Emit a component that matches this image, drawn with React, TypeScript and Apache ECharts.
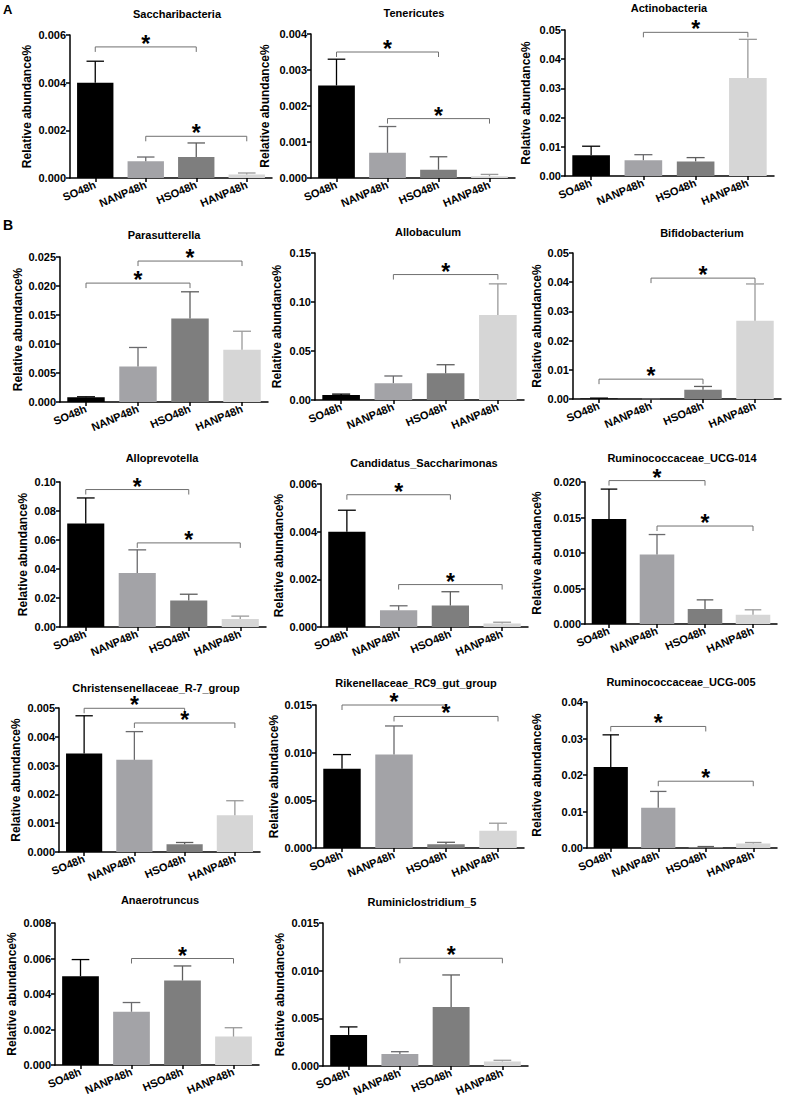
import React, { useEffect, useRef } from "react";
import * as echarts from "echarts";

const FONT = "Arial, 'Liberation Sans', Helvetica, sans-serif";

const categories = ["SO48h", "NANP48h", "HSO48h", "HANP48h"];
const groupColors = ["#000000", "#a3a3a7", "#7e7e7e", "#d6d6d6"];
const errorColors = ["#000000", "#6a6a6d", "#5e5e5e", "#9a9a9a"];
const yAxisName = "Relative abundance%";

// ---- Panel A ----
const saccharibacteriaMean = [0.004, 0.0007, 0.00088, 0.00015];
const saccharibacteriaTop = [0.0049, 0.00088, 0.00147, 0.00021];
const saccharibacteriaSig = [[0, 2, 0.0055], [1, 3, 0.00175]];

const tenericutesMean = [0.00257, 0.0007, 0.00023, 0.00005];
const tenericutesTop = [0.0033, 0.00143, 0.00059, 0.0001];
const tenericutesSig = [[0, 2, 0.0035], [1, 3, 0.00165]];

const actinobacteriaMean = [0.0071, 0.0054, 0.005, 0.0336];
const actinobacteriaTop = [0.0102, 0.0073, 0.0063, 0.0468];
const actinobacteriaSig = [[1, 3, 0.0492]];

// ---- Panel B ----
const parasutterellaMean = [0.0008, 0.0061, 0.0144, 0.009];
const parasutterellaTop = [0.0009, 0.0094, 0.019, 0.0122];
const parasutterellaSig = [[0, 2, 0.0205], [1, 3, 0.0243]];

const allobaculumMean = [0.0052, 0.0172, 0.0272, 0.0868];
const allobaculumTop = [0.006, 0.0245, 0.036, 0.1185];
const allobaculumSig = [[1, 3, 0.128]];

const bifidobacteriumMean = [0.0002, 0.00003, 0.0032, 0.0268];
const bifidobacteriumTop = [0.0003, 0.00005, 0.0043, 0.0394];
const bifidobacteriumSig = [[0, 2, 0.0068], [1, 3, 0.0414]];

const alloprevotellaMean = [0.0713, 0.0372, 0.0183, 0.0055];
const alloprevotellaTop = [0.089, 0.0532, 0.0226, 0.0075];
const alloprevotellaSig = [[0, 2, 0.0948], [1, 3, 0.058]];

const saccharimonasMean = [0.004, 0.0007, 0.0009, 0.00015];
const saccharimonasTop = [0.0049, 0.00089, 0.00148, 0.0002];
const saccharimonasSig = [[0, 2, 0.00555], [1, 3, 0.00178]];

const ucg014Mean = [0.0148, 0.0098, 0.0021, 0.0013];
const ucg014Top = [0.019, 0.0126, 0.0034, 0.002];
const ucg014Sig = [[0, 2, 0.0202], [1, 3, 0.0138]];

const christensenMean = [0.00342, 0.0032, 0.00027, 0.00128];
const christensenTop = [0.00473, 0.00418, 0.00033, 0.00178];
const christensenSig = [[0, 2, 0.00499], [1, 3, 0.00448]];

const rikenellaceaeMean = [0.0083, 0.0098, 0.0004, 0.0018];
const rikenellaceaeTop = [0.0098, 0.0128, 0.0006, 0.0026];
const rikenellaceaeSig = [[0, 2, 0.015], [1, 3, 0.0138]];

const ucg005Mean = [0.0222, 0.011, 0.0003, 0.0012];
const ucg005Top = [0.031, 0.0155, 0.0004, 0.0015];
const ucg005Sig = [[0, 2, 0.0333], [1, 3, 0.0183]];

const anaerotruncusMean = [0.005, 0.003, 0.00476, 0.0016];
const anaerotruncusTop = [0.00594, 0.00352, 0.00558, 0.0021];
const anaerotruncusSig = [[1, 3, 0.006]];

const ruminiclostridiumMean = [0.00326, 0.00125, 0.0062, 0.00048];
const ruminiclostridiumTop = [0.0041, 0.0015, 0.00955, 0.0006];
const ruminiclostridiumSig = [[1, 3, 0.0113]];

const panels = [
  { title: "Saccharibacteria", mean: saccharibacteriaMean, errTop: saccharibacteriaTop, sig: saccharibacteriaSig, max: 0.006, step: 0.002, dec: 3, left: 70, top: 35, width: 202, height: 143, tx: 177, ty: 14, gap: 37 },
  { title: "Tenericutes", mean: tenericutesMean, errTop: tenericutesTop, sig: tenericutesSig, max: 0.004, step: 0.001, dec: 3, left: 311, top: 34, width: 204, height: 144, tx: 414, ty: 13, gap: 40 },
  { title: "Actinobacteria", mean: actinobacteriaMean, errTop: actinobacteriaTop, sig: actinobacteriaSig, max: 0.05, step: 0.01, dec: 2, left: 565, top: 30, width: 209, height: 146, tx: 669, ty: 8, gap: 33 },

  { title: "Parasutterella", mean: parasutterellaMean, errTop: parasutterellaTop, sig: parasutterellaSig, max: 0.025, step: 0.005, dec: 3, left: 60, top: 257, width: 208, height: 145, tx: 164, ty: 235, gap: 36 },
  { title: "Allobaculum", mean: allobaculumMean, errTop: allobaculumTop, sig: allobaculumSig, max: 0.15, step: 0.05, dec: 2, left: 315, top: 253, width: 209, height: 147, tx: 428, ty: 232, gap: 32 },
  { title: "Bifidobacterium", mean: bifidobacteriumMean, errTop: bifidobacteriumTop, sig: bifidobacteriumSig, max: 0.05, step: 0.01, dec: 2, left: 573, top: 253, width: 208, height: 146, tx: 702, ty: 233, gap: 30 },

  { title: "Alloprevotella", mean: alloprevotellaMean, errTop: alloprevotellaTop, sig: alloprevotellaSig, max: 0.1, step: 0.02, dec: 2, left: 60, top: 482, width: 206, height: 145, tx: 162, ty: 458, gap: 31 },
  { title: "Candidatus_Saccharimonas", mean: saccharimonasMean, errTop: saccharimonasTop, sig: saccharimonasSig, max: 0.006, step: 0.002, dec: 3, left: 321, top: 484, width: 207, height: 143, tx: 424, ty: 463, gap: 36 },
  { title: "Ruminococcaceae_UCG-014", mean: ucg014Mean, errTop: ucg014Top, sig: ucg014Sig, max: 0.02, step: 0.005, dec: 3, left: 585, top: 482, width: 192, height: 142, tx: 682, ty: 458, gap: 42 },

  { title: "Christensenellaceae_R-7_group", mean: christensenMean, errTop: christensenTop, sig: christensenSig, max: 0.005, step: 0.001, dec: 3, left: 59, top: 708, width: 201, height: 144, tx: 156, ty: 688, gap: 37 },
  { title: "Rikenellaceae_RC9_gut_group", mean: rikenellaceaeMean, errTop: rikenellaceaeTop, sig: rikenellaceaeSig, max: 0.015, step: 0.005, dec: 3, left: 316, top: 705, width: 208, height: 143, tx: 416, ty: 683, gap: 36 },
  { title: "Ruminococcaceae_UCG-005", mean: ucg005Mean, errTop: ucg005Top, sig: ucg005Sig, max: 0.04, step: 0.01, dec: 2, left: 587, top: 702, width: 190, height: 146, tx: 681, ty: 682, gap: 44 },

  { title: "Anaerotruncus", mean: anaerotruncusMean, errTop: anaerotruncusTop, sig: anaerotruncusSig, max: 0.008, step: 0.002, dec: 3, left: 55, top: 923, width: 204, height: 142, tx: 160, ty: 900, gap: 37 },
  { title: "Ruminiclostridium_5", mean: ruminiclostridiumMean, errTop: ruminiclostridiumTop, sig: ruminiclostridiumSig, max: 0.015, step: 0.005, dec: 3, left: 323, top: 923, width: 205, height: 143, tx: 422, ty: 902, gap: 37 },
];

const BAR_FRAC = 0.72;

function errorItem(params: any, api: any) {
  const i = api.value(0);
  const p0 = api.coord([i, api.value(1)]);
  const p1 = api.coord([i, api.value(2)]);
  const bw = api.size([1, 0])[0] * BAR_FRAC;
  const cap = bw * 0.24;
  const stroke = errorColors[i];
  return {
    type: "group",
    children: [
      { type: "line", shape: { x1: p0[0], y1: p0[1], x2: p1[0], y2: p1[1] }, style: { stroke, lineWidth: 1.3 } },
      { type: "line", shape: { x1: p1[0] - cap, y1: p1[1], x2: p1[0] + cap, y2: p1[1] }, style: { stroke, lineWidth: 1.3 } },
    ],
  };
}

function bracketItem(params: any, api: any) {
  const a = api.coord([api.value(0), api.value(2)]);
  const b = api.coord([api.value(1), api.value(2)]);
  const tick = 5;
  return {
    type: "group",
    children: [
      {
        type: "polyline",
        shape: { points: [[a[0], a[1] + tick], [a[0], a[1]], [b[0], b[1]], [b[0], b[1] + tick]] },
        style: { stroke: "#707070", lineWidth: 1, fill: "none" },
      },
      {
        type: "text",
        x: (a[0] + b[0]) / 2,
        y: a[1] - 3,
        style: { text: "*", fill: "#000", fontSize: 23, fontWeight: "bold", fontFamily: FONT, align: "center", verticalAlign: "middle" },
      },
    ],
  };
}

export default function App() {
  const ref = useRef<HTMLDivElement>(null);
  useEffect(() => {
    if (!ref.current) return;
    const chart = echarts.init(ref.current, null, { renderer: "svg" });
    const grid: any[] = [];
    const xAxis: any[] = [];
    const yAxis: any[] = [];
    const series: any[] = [];
    const graphic: any[] = [];
    const axisLine = { show: true, lineStyle: { color: "#000", width: 1.5 } };
    panels.forEach((p, k) => {
      grid.push({ left: p.left, top: p.top, width: p.width, height: p.height });
      xAxis.push({
        type: "category",
        gridIndex: k,
        data: categories,
        axisLine,
        axisTick: { show: true, alignWithLabel: true, length: 4, lineStyle: { color: "#000", width: 1.5 } },
        axisLabel: { rotate: 23, interval: 0, margin: 6, color: "#000", fontSize: 11, fontWeight: "bold", fontFamily: FONT },
        splitLine: { show: false },
      });
      yAxis.push({
        type: "value",
        gridIndex: k,
        min: 0,
        max: p.max,
        interval: p.step,
        axisLine,
        axisTick: { show: true, length: 4, lineStyle: { color: "#000", width: 1.5 } },
        axisLabel: { margin: 4, color: "#000", fontSize: 11, fontWeight: "bold", fontFamily: FONT, formatter: (v: number) => v.toFixed(p.dec) },
        splitLine: { show: false },
        name: yAxisName,
        nameLocation: "middle",
        nameGap: p.gap,
        nameTextStyle: { color: "#000", fontSize: 12, fontWeight: "bold", fontFamily: FONT },
      });
      series.push({
        type: "bar",
        xAxisIndex: k,
        yAxisIndex: k,
        barWidth: BAR_FRAC * 100 + "%",
        silent: true,
        data: p.mean.map((v, i) => ({ value: v, itemStyle: { color: groupColors[i] } })),
      });
      series.push({
        type: "custom",
        xAxisIndex: k,
        yAxisIndex: k,
        silent: true,
        z: 3,
        clip: false,
        encode: { x: 0, y: [1, 2] },
        data: p.mean.map((v, i) => [i, v, p.errTop[i]]),
        renderItem: errorItem,
      });
      series.push({
        type: "custom",
        xAxisIndex: k,
        yAxisIndex: k,
        silent: true,
        z: 4,
        clip: false,
        encode: { x: [0, 1], y: 2 },
        data: p.sig,
        renderItem: bracketItem,
      });
      graphic.push({
        type: "text",
        x: p.tx,
        y: p.ty,
        style: { text: p.title, fill: "#000", fontSize: 11, fontWeight: "bold", fontFamily: FONT, align: "center", verticalAlign: "middle" },
      });
    });
    graphic.push({ type: "text", x: 3, y: 3, style: { text: "A", fill: "#000", fontSize: 13, fontWeight: "bold", fontFamily: FONT } });
    graphic.push({ type: "text", x: 3, y: 218, style: { text: "B", fill: "#000", fontSize: 14, fontWeight: "bold", fontFamily: FONT } });

    chart.setOption({ animation: false, backgroundColor: "#fff", grid, xAxis, yAxis, series, graphic });
    return () => chart.dispose();
  }, []);
  return <div ref={ref} style={{ position: "absolute", left: 0, top: 0, width: 787, height: 1106 }} />;
}
